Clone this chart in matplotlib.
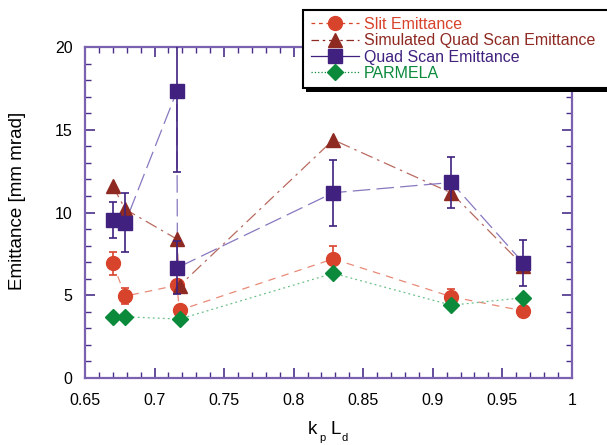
import numpy as np
import matplotlib
matplotlib.use('Agg')
import matplotlib.pyplot as plt
from matplotlib.lines import Line2D
from matplotlib.patches import Rectangle
from matplotlib.ticker import MultipleLocator

plt.rcParams['font.family'] = ['Liberation Sans', 'DejaVu Sans']

# data
slit_x = [0.670, 0.679, 0.716, 0.718, 0.8285, 0.9135, 0.965]
slit_y = [6.93, 4.95, 5.6, 4.1, 7.2, 4.91, 4.06]
slit_err = [0.7, 0.5, 0.3, 0.3, 0.75, 0.45, 0.2]

sim_x = [0.670, 0.679, 0.716, 0.718, 0.8285, 0.9135, 0.965]
sim_y = [11.6, 10.2, 8.4, 5.58, 14.4, 11.18, 6.8]

quad_x = [0.670, 0.679, 0.716, 0.7165, 0.8285, 0.9135, 0.965]
quad_y = [9.56, 9.4, 17.33, 6.67, 11.2, 11.82, 6.97]
quad_err = [1.1, 1.8, 4.85, 1.6, 2.0, 1.55, 1.4]

parm_x = [0.670, 0.679, 0.718, 0.8285, 0.9135, 0.965]
parm_y = [3.7, 3.7, 3.56, 6.33, 4.4, 4.85]

labels = ['Slit Emittance', 'Simulated Quad Scan Emittance',
          'Quad Scan Emittance', 'PARMELA']

c_slit = '#d8432c'
c_sim = '#8e2a22'
c_quad = '#40217f'
c_parm = '#0b8a3c'
c_axis = '#7a62b0'

fig = plt.figure(figsize=(6.07, 4.45), dpi=100)
ax = fig.add_axes([0.140, 0.1506, 0.802, 0.7434])

# connecting lines (thin and faint)
ax.plot(slit_x, slit_y, color='#e88a78', lw=0.9, ls=(0, (6, 5)), zorder=2)
ax.plot(sim_x, sim_y, color='#b86a60', lw=0.9, ls=(0, (10, 4, 2, 4)), zorder=2)
ax.plot(quad_x, quad_y, color='#8878c0', lw=0.9, ls=(0, (14, 5)), zorder=2)
ax.plot(parm_x, parm_y, color='#6cc08a', lw=0.9, ls=(0, (1.5, 2.5)), zorder=2)

# markers + error bars
ax.errorbar(slit_x, slit_y, yerr=slit_err, fmt='o', color=c_slit, ms=10,
            elinewidth=1.2, capsize=3, capthick=1.2, zorder=4)
ax.plot(sim_x, sim_y, '^', color=c_sim, ms=10, zorder=5)
ax.errorbar(quad_x, quad_y, yerr=quad_err, fmt='s', color=c_quad, ms=10,
            elinewidth=1.2, capsize=3, capthick=1.2, zorder=6)
ax.plot(parm_x, parm_y, 'D', color=c_parm, ms=8, zorder=7)

ax.set_xlim(0.65, 1.0)
ax.set_ylim(0, 20)
ax.xaxis.set_minor_locator(MultipleLocator(0.01))
ax.yaxis.set_major_locator(MultipleLocator(5))
ax.yaxis.set_minor_locator(MultipleLocator(1))
ax.set_xticks(np.arange(0.65, 1.001, 0.05))
ax.set_xticklabels(['0.65', '0.7', '0.75', '0.8', '0.85', '0.9', '0.95', '1'])
ax.tick_params(which='both', direction='in', top=True, right=True,
               color='#4a2f8a', labelsize=11.5)
ax.tick_params(axis='x', pad=11)
ax.tick_params(axis='y', pad=9)
ax.tick_params(which='major', length=7, width=1.2)
ax.tick_params(which='minor', length=4, width=1.0)
for s in ax.spines.values():
    s.set_color(c_axis)
    s.set_linewidth(1.6)

fig.text(18 / 607, 1 - 201 / 445, 'Emittance [mm mrad]', rotation=90,
         ha='center', va='center', fontsize=13.5)

# x label k_p L_d with low subscripts
fh = 445.0
fw = 607.0
fig.text(308 / fw, 1 - 434 / fh, 'k', fontsize=13.5, ha='left', va='baseline')
fig.text(319 / fw, 1 - 441 / fh, 'p', fontsize=8, ha='left', va='baseline')
fig.text(331 / fw, 1 - 434 / fh, 'L', fontsize=13.5, ha='left', va='baseline')
fig.text(341 / fw, 1 - 441 / fh, 'd', fontsize=8, ha='left', va='baseline')

# legend with shadowed box running off the right edge
fig.patches.append(Rectangle((306 / fw, 1 - 92 / fh), 320 / fw, 80 / fh,
                             transform=fig.transFigure, facecolor='black',
                             edgecolor='none', zorder=8))
fig.patches.append(Rectangle((303 / fw, 1 - 88 / fh), 320 / fw, 78 / fh,
                             transform=fig.transFigure, facecolor='white',
                             edgecolor='black', lw=1.5, zorder=9))
handles = [
    Line2D([], [], color=c_slit, ls=(0, (3, 3)), lw=0.9, marker='o', ms=10),
    Line2D([], [], color=c_sim, ls=(0, (6, 3, 2, 3)), lw=0.9, marker='^', ms=10),
    Line2D([], [], color=c_quad, ls='-', lw=0.9, marker='s', ms=10),
    Line2D([], [], color=c_parm, ls=':', lw=0.9, marker='D', ms=8),
]
leg = fig.legend(handles, labels, loc='upper left',
                 bbox_to_anchor=(311 / fw, 1 - 17 / fh), frameon=False,
                 fontsize=11.5, handlelength=3.0, handletextpad=0.3,
                 labelspacing=0.08, borderpad=0.0, borderaxespad=0.0)
leg.set_zorder(10)
for t, c in zip(leg.get_texts(), [c_slit, c_sim, c_quad, c_parm]):
    t.set_color(c)

fig.savefig('out.png', dpi=100)
